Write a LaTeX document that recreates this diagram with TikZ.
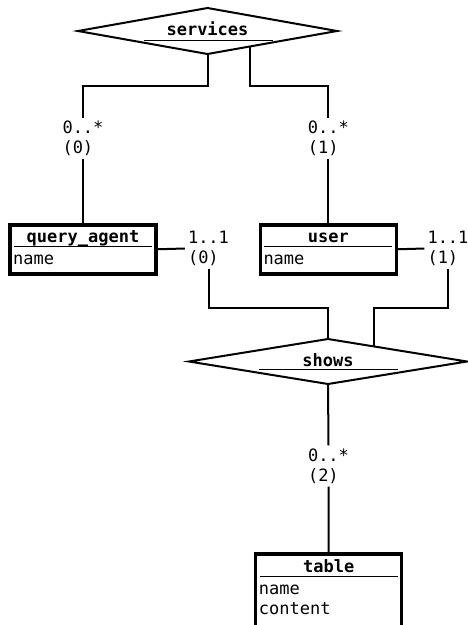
\documentclass[tikz,border=0pt]{standalone}
\usepackage{fontspec}
\setmainfont{DejaVu Sans Mono}
\usetikzlibrary{shapes.geometric}

\tikzset{
	entity/.style={draw, rectangle, line width=3.5pt, inner sep=0pt, outer sep=0pt},
	relation/.style={draw, diamond, line width=2pt, inner sep=0pt, outer sep=0pt},
	link/.style={line width=2pt},
	uline/.style={line width=1pt},
	card/.style={align=left, inner sep=3pt, font=\fontsize{17}{20}\selectfont},
	ename/.style={anchor=base, inner sep=0pt, font=\fontsize{17}{20}\selectfont\bfseries},
	attr/.style={anchor=base west, inner sep=0pt, font=\fontsize{17}{20}\selectfont},
}

\begin{document}
\begin{tikzpicture}[x=1pt, y=-1pt]

% Rahmen des Bildes
\useasboundingbox (0,0) rectangle (468,625);

% Koordinaten der Beziehungen und Entitaeten
\coordinate (pServices) at (207.5,31);
\coordinate (pShows) at (328,361.5);
\coordinate (pQuery) at (83,249.3);
\coordinate (pUser) at (328.3,249.3);
\coordinate (pTable) at (328.7,604);

% Beziehungen zeichnen
\node[relation, minimum width=259pt, minimum height=46pt] at (pServices) (services) {};
\node[ename] at ([yshift=-4pt]services.center) (servicesName) {services};
\draw[uline] ([xshift=-64pt,yshift=-9pt]services.center) -- ([xshift=65pt,yshift=-9pt]services.center);

\node[relation, minimum width=278pt, minimum height=45pt] at (pShows) (shows) {};
\node[ename] at ([yshift=-4.5pt]shows.center) (showsName) {shows};
\draw[uline] ([xshift=-69pt,yshift=-7.5pt]shows.center) -- ([xshift=70pt,yshift=-7.5pt]shows.center);

% Entitaeten zeichnen
\node[entity, minimum width=146pt, minimum height=49pt] at (pQuery) (query) {};
\node[ename] at ([yshift=-18pt]query.north) (queryName) {query\_agent};
\draw[uline] ([xshift=4pt,yshift=-22pt]query.north west) -- ([xshift=-4pt,yshift=-22pt]query.north east);
\node[attr] at ([xshift=3pt,yshift=-40pt]query.north west) (queryAttrA) {name};

\node[entity, minimum width=136pt, minimum height=49pt] at (pUser) (user) {};
\node[ename] at ([yshift=-18pt]user.north) (userName) {user};
\draw[uline] ([xshift=4pt,yshift=-22pt]user.north west) -- ([xshift=-4pt,yshift=-22pt]user.north east);
\node[attr] at ([xshift=3pt,yshift=-40pt]user.north west) (userAttrA) {name};

\node[entity, minimum width=146pt, minimum height=100pt] at (pTable) (table) {};
\node[ename] at ([yshift=-18pt]table.north) (tableName) {table};
\draw[uline] ([xshift=4pt,yshift=-22pt]table.north west) -- ([xshift=-4pt,yshift=-22pt]table.north east);
\node[attr] at ([xshift=3pt,yshift=-40pt]table.north west) (tableAttrA) {name};
\node[attr] at ([xshift=3pt,yshift=-60pt]table.north west) (tableAttrB) {content};

% Kardinalitaeten
\node[card] at (83,138.5) (cQueryServices) {0..*\\(0)};
\node[card] at (328.3,138.5) (cUserServices) {0..*\\(1)};
\node[card] at (208.5,248.5) (cQueryShows) {1..1\\(0)};
\node[card] at (448,248.5) (cUserShows) {1..1\\(1)};
\node[card] at (328.5,466) (cTableShows) {0..*\\(2)};

% Verbindungen zu services
\draw[link] (services.south) -- ++(0,32) coordinate (kServices) -| (cQueryServices.north);
\draw[link] (services.340) -- (services.340 |- kServices) -| (cUserServices.north);
\path[link] (cQueryServices.south) edge (query.north);
\path[link] (cUserServices.south) edge (user.north);

% Verbindungen zu shows
\path[link] (query.east) edge (cQueryShows.west);
\path[link] (user.east) edge (cUserShows.west);
\draw[link] (cQueryShows.south) |- ([yshift=31pt]shows.north) coordinate (kShows) -- (shows.north);
\draw[link] (shows.18) -- (shows.18 |- kShows) -| (cUserShows.south);
\path[link] (shows.south) edge (cTableShows.north);
\path[link] (cTableShows.south) edge (table.north);

\end{tikzpicture}
\end{document}
